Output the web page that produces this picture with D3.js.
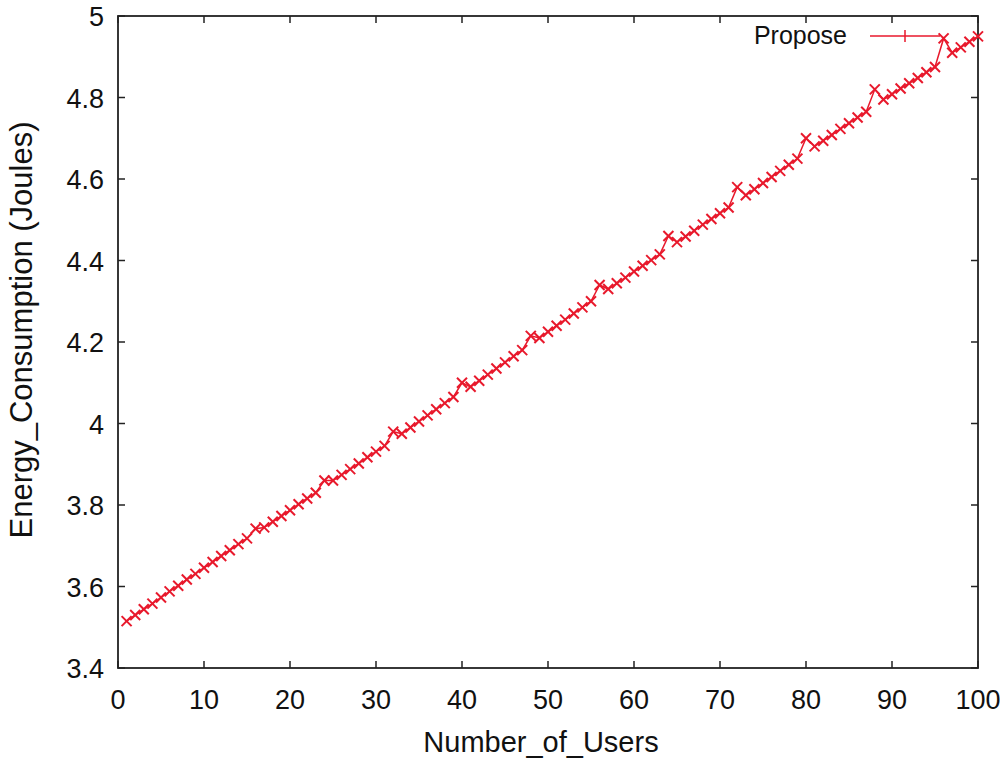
<!DOCTYPE html>
<html>
<head>
<meta charset="utf-8">
<script src="https://cdn.jsdelivr.net/npm/d3@7"></script>
<style>
  html, body { margin: 0; padding: 0; background: #fff; }
  svg { display: block; }
  text { font-family: "Liberation Sans", Arial, sans-serif; fill: #111; }
</style>
</head>
<body>
<svg id="chart" width="1000" height="762"></svg>
<script>
const users = d3.range(1, 101);
const energy = [
  3.515, 3.530, 3.544, 3.558, 3.573, 3.588, 3.602, 3.617, 3.631, 3.646,
  3.660, 3.675, 3.689, 3.704, 3.718, 3.742, 3.745, 3.759, 3.773, 3.787,
  3.802, 3.816, 3.830, 3.860, 3.860, 3.874, 3.888, 3.902, 3.917, 3.931,
  3.945, 3.980, 3.975, 3.990, 4.005, 4.020, 4.035, 4.050, 4.065, 4.100,
  4.090, 4.105, 4.120, 4.135, 4.150, 4.165, 4.180, 4.215, 4.210, 4.225,
  4.240, 4.255, 4.270, 4.285, 4.300, 4.340, 4.330, 4.344, 4.358, 4.373,
  4.387, 4.401, 4.415, 4.460, 4.445, 4.459, 4.473, 4.488, 4.502, 4.516,
  4.530, 4.580, 4.560, 4.575, 4.590, 4.605, 4.620, 4.635, 4.650, 4.700,
  4.680, 4.694, 4.708, 4.723, 4.737, 4.751, 4.765, 4.820, 4.795, 4.808,
  4.822, 4.835, 4.848, 4.862, 4.875, 4.945, 4.910, 4.923, 4.937, 4.950
];
const xTicks = [0, 10, 20, 30, 40, 50, 60, 70, 80, 90, 100];
const yTicks = [3.4, 3.6, 3.8, 4, 4.2, 4.4, 4.6, 4.8, 5];
const seriesName = "Propose";
const xTitle = "Number_of_Users";
const yTitle = "Energy_Consumption (Joules)";

const data = users.map((u, i) => ({ x: u, y: energy[i] }));

const L = 118, R = 978, T = 16, B = 668;
const red = "#e8192c";
const frameColor = "#222";

const svg = d3.select("#chart");
const x = d3.scaleLinear().domain([0, 100]).range([L, R]);
const y = d3.scaleLinear().domain([3.4, 5]).range([B, T]);

// ticks (inward, on all four sides)
const tickLen = 7;
const tg = svg.append("g").attr("stroke", frameColor).attr("stroke-width", 1.5);
xTicks.forEach(t => {
  tg.append("line").attr("x1", x(t)).attr("x2", x(t)).attr("y1", B).attr("y2", B - tickLen);
  tg.append("line").attr("x1", x(t)).attr("x2", x(t)).attr("y1", T).attr("y2", T + tickLen);
});
yTicks.forEach(t => {
  tg.append("line").attr("x1", L).attr("x2", L + tickLen).attr("y1", y(t)).attr("y2", y(t));
  tg.append("line").attr("x1", R).attr("x2", R - tickLen).attr("y1", y(t)).attr("y2", y(t));
});

// frame
svg.append("rect").attr("x", L).attr("y", T).attr("width", R - L).attr("height", B - T)
  .attr("fill", "none").attr("stroke", frameColor).attr("stroke-width", 1.8);

// tick labels
const fs = 27;
xTicks.forEach(t => {
  svg.append("text")
    .attr("x", x(t)).attr("y", 709)
    .attr("text-anchor", "middle").attr("font-size", fs).text(t);
});
yTicks.forEach(t => {
  svg.append("text")
    .attr("x", 104).attr("y", y(t) + 10)
    .attr("text-anchor", "end").attr("font-size", fs).text(d3.format("")(t));
});

// axis titles
svg.append("text")
  .attr("x", 541).attr("y", 752)
  .attr("text-anchor", "middle").attr("font-size", 29).text(xTitle);
svg.append("text")
  .attr("transform", `translate(${32},${330}) rotate(-90)`)
  .attr("text-anchor", "middle").attr("font-size", 31).text(yTitle);

// series line
const line = d3.line().x(d => x(d.x)).y(d => y(d.y));
svg.append("path").datum(data).attr("d", line)
  .attr("fill", "none").attr("stroke", red).attr("stroke-width", 1.5);

// markers
const m = 5;
const mg = svg.append("g").attr("stroke", red).attr("stroke-width", 2);
data.forEach(d => {
  const cx = x(d.x), cy = y(d.y);
  mg.append("line").attr("x1", cx - m).attr("x2", cx + m).attr("y1", cy - m).attr("y2", cy + m);
  mg.append("line").attr("x1", cx - m).attr("x2", cx + m).attr("y1", cy + m).attr("y2", cy - m);
});

// legend
svg.append("text")
  .attr("x", 847).attr("y", 44)
  .attr("text-anchor", "end").attr("font-size", 25).text(seriesName);
svg.append("line").attr("x1", 870).attr("x2", 940).attr("y1", 36).attr("y2", 36)
  .attr("stroke", red).attr("stroke-width", 1.5);
svg.append("line").attr("x1", 905).attr("x2", 905).attr("y1", 30).attr("y2", 42)
  .attr("stroke", red).attr("stroke-width", 1.5);
</script>
</body>
</html>
